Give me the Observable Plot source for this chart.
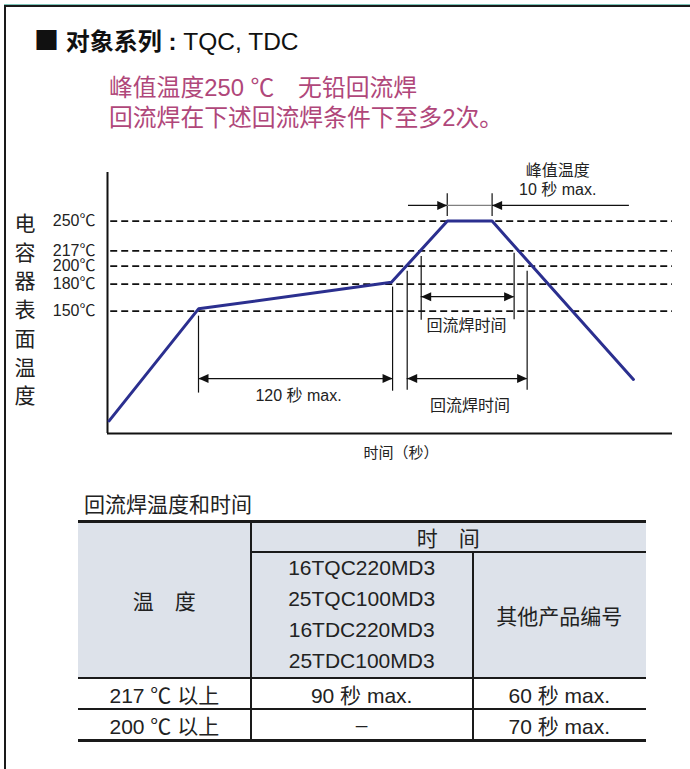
<!DOCTYPE html>
<html>
<head>
<meta charset="utf-8">
<script src="https://cdn.jsdelivr.net/npm/d3@7"></script>
<script src="https://cdn.jsdelivr.net/npm/@observablehq/plot@0.6"></script>
<style>
  html, body { margin: 0; padding: 0; background: #fff; }
  #page { position: relative; width: 690px; height: 769px; overflow: hidden;
          font-family: "Liberation Sans", Arial, "Noto Sans CJK SC", sans-serif; color: #1a1a1a; }
  .abs { position: absolute; white-space: nowrap; }
  #frameTop1 { left: 4px; top: 4px; width: 686px; height: 1px; background: #7cc4b8; }
  #frameTop2 { left: 4px; top: 5px; width: 686px; height: 2px; background: #1a1a1a; }
  #frameLeft { left: 4px; top: 5px; width: 2px; height: 764px; background: #1a1a1a; }
  #title { left: 34px; top: 24px; font-size: 24.5px; line-height: 30px; color: #111; }
  #title .sq { font-family: "Noto Sans CJK SC", sans-serif; font-size: 25px; }
  #title .cjk { font-weight: bold; font-size: 24px; }
  #subtitle { left: 109px; top: 73px; font-size: 23.8px; line-height: 30px; color: #b0477a; }
  #ytitle { left: 14px; top: 210px; width: 22px; font-size: 21px; line-height: 28.7px; text-align: center; color: #222; }
  #xtitle { left: 351px; top: 443px; width: 100px; text-align: center; font-size: 15px; line-height: 20px; color: #222; }
  #chart { left: 0; top: 150px; }
  #caption { left: 84px; top: 492px; font-size: 21px; line-height: 26px; color: #222; }
  .cell { position: absolute; transform: translate(-50%, -50%); white-space: nowrap; font-size: 21px; color: #222; }
  .line { position: absolute; background: #1a1a1a; }
</style>
</head>
<body>
<div id="page">
  <div class="abs" id="frameTop1"></div>
  <div class="abs" id="frameTop2"></div>
  <div class="abs" id="frameLeft"></div>
  <div class="abs" id="title"><span class="sq">■</span> <span class="cjk">对象系列 :</span> TQC, TDC</div>
  <div class="abs" id="subtitle"></div>
  <div class="abs" id="ytitle"></div>
  <div class="abs" id="xtitle"></div>
  <div class="abs" id="chart"></div>
  <div class="abs" id="caption"></div>
  <div id="table"></div>
</div>
<script>
// ---------- text ----------
const subtitleLines = ["峰值温度250 ℃　无铅回流焊", "回流焊在下述回流焊条件下至多2次。"];
const yTitleChars = ["电", "容", "器", "表", "面", "温", "度"];
const xTitle = "时间（秒）";

// ---------- chart data ----------
const refTemps = [250, 217, 200, 180, 150];           // dashed reference levels (℃)
const profileTime = [1, 56.6, 176.6, 211.4, 239.2, 327.1];   // seconds (schematic)
const profileTemp = [28, 152.5, 182, 250, 250, 74];          // ℃

const markerTime = [56.6, 177.3, 186.4, 195.1, 252.9, 261, 211.3, 239.2];
const markerLow  = [58.9, 61, 62, 139.7, 140.4, 62, 255.2, 255.2];
const markerHigh = [144.4, 176.7, 194.4, 210.8, 214.4, 194.4, 280.4, 280.4];

// dimension spans with outward arrowheads
const spanTemp  = [75, 75, 166];
const spanStart = [56.6, 186.4, 195.1];
const spanEnd   = [177.3, 261, 252.9];

// peak span (arrows pointing inward)
const peakTemp = [267.4];
const peakStart = [211.3];
const peakEnd = [239.2];
const peakOuterLeft = [187.2];
const peakOuterRight = [324.6];

const labelText = ["120 秒 max.", "回流焊时间", "回流焊时间", "峰值温度", "10 秒 max."];
const labelTime = [118.8, 223.3, 225.4, 280, 280];
const labelTemp = [56.2, 133.2, 45.1, 305.4, 285.1];

const timeDomain = [0, 351.4];
const tempDomain = [14, 304];

// ---------- table data ----------
const tableCaption = "回流焊温度和时间";
const headTemp = "温　度";
const headTime = "时　间";
const groupA = ["16TQC220MD3", "25TQC100MD3", "16TDC220MD3", "25TDC100MD3"];
const groupB = "其他产品编号";
const rowTemps = ["217 ℃ 以上", "200 ℃ 以上"];
const rowTimesA = ["90 秒 max.", "–"];
const rowTimesB = ["60 秒 max.", "70 秒 max."];

// ---------- header texts ----------
document.getElementById("subtitle").innerHTML = subtitleLines.join("<br>");
document.getElementById("ytitle").innerHTML = yTitleChars.join("<br>");
document.getElementById("xtitle").textContent = xTitle;
document.getElementById("caption").textContent = tableCaption;

// ---------- chart ----------
const profile = profileTime.map((t, i) => ({t, T: profileTemp[i]}));
const markers = markerTime.map((t, i) => ({t, lo: markerLow[i], hi: markerHigh[i]}));
const spans = spanTemp.map((T, i) => ({T, a: spanStart[i], b: spanEnd[i]}));
const peakShafts = [
  {T: peakTemp[0], a: peakOuterLeft[0], b: peakStart[0]},
  {T: peakTemp[0], a: peakEnd[0], b: peakOuterRight[0]}
];
const peakGap = [{T: peakTemp[0], a: peakStart[0], b: peakEnd[0]}];
const rightHeads = spans.map(s => ({t: s.b, T: s.T})).concat([{t: peakStart[0], T: peakTemp[0]}]);
const leftHeads = spans.map(s => ({t: s.a, T: s.T})).concat([{t: peakEnd[0], T: peakTemp[0]}]);
const labels = labelText.map((text, i) => ({text, t: labelTime[i], T: labelTemp[i]}));

const headRight = {draw(ctx) { ctx.moveTo(0, 0); ctx.lineTo(-10, -4.5); ctx.lineTo(-10, 4.5); ctx.closePath(); }};
const headLeft  = {draw(ctx) { ctx.moveTo(0, 0); ctx.lineTo(10, -4.5); ctx.lineTo(10, 4.5); ctx.closePath(); }};

const ink = "#111";
const chart = Plot.plot({
  width: 690,
  height: 320,
  marginLeft: 107,
  marginRight: 18,
  marginTop: 22,
  marginBottom: 37,
  x: {domain: timeDomain, axis: null},
  y: {domain: tempDomain, axis: null},
  style: {fontFamily: '"Liberation Sans", Arial, "Noto Sans CJK SC", sans-serif', fontSize: "16px", background: "transparent", overflow: "visible"},
  marks: [
    Plot.ruleY(refTemps, {y: d => d, x1: 2, x2: timeDomain[1], stroke: ink, strokeWidth: 1.8, strokeDasharray: "7,4"}),
    Plot.ruleX([timeDomain[0]], {y1: tempDomain[0], y2: tempDomain[1], stroke: ink, strokeWidth: 2}),
    Plot.ruleY([tempDomain[0]], {x1: timeDomain[0], x2: timeDomain[1], stroke: ink, strokeWidth: 2}),
    Plot.ruleX(markers, {x: "t", y1: "lo", y2: "hi", stroke: ink, strokeWidth: 1.2}),
    Plot.ruleY(spans, {y: "T", x1: "a", x2: "b", stroke: ink, strokeWidth: 1.2}),
    Plot.ruleY(peakShafts, {y: "T", x1: "a", x2: "b", stroke: ink, strokeWidth: 1.2}),
    Plot.ruleY(peakGap, {y: "T", x1: "a", x2: "b", stroke: "#808080", strokeWidth: 1.2}),
    Plot.dot(rightHeads, {x: "t", y: "T", symbol: headRight, fill: ink, stroke: "none", r: 5}),
    Plot.dot(leftHeads, {x: "t", y: "T", symbol: headLeft, fill: ink, stroke: "none", r: 5}),
    Plot.line(profile, {x: "t", y: "T", stroke: "#2b2f8f", strokeWidth: 3, strokeLinejoin: "miter"}),
    Plot.text(refTemps, {x: timeDomain[0], y: d => d, text: d => d + "℃", textAnchor: "end", dx: -12, fontSize: 16, fill: "#222"}),
    Plot.text(labels, {x: "t", y: "T", text: "text", fontSize: 16, fill: "#222"})
  ]
});
document.getElementById("chart").appendChild(chart);

// ---------- table ----------
const colEdges = [78, 250.7, 472.7, 646];
const rowEdges = [521, 552, 678, 709, 740];
const tbl = document.getElementById("table");
function rect(x, y, w, h, cls, color) {
  const d = document.createElement("div");
  d.className = cls;
  d.style.left = x + "px"; d.style.top = y + "px"; d.style.width = w + "px"; d.style.height = h + "px";
  if (color) d.style.background = color;
  tbl.appendChild(d);
}
function cell(text, cx, cy, extra) {
  const d = document.createElement("div");
  d.className = "cell";
  d.style.left = cx + "px"; d.style.top = cy + "px";
  if (extra) Object.assign(d.style, extra);
  d.innerHTML = text;
  tbl.appendChild(d);
}
const W = colEdges[3] - colEdges[0];
rect(colEdges[0], rowEdges[0], W, rowEdges[2] - rowEdges[0], "line", "#dde2ea");
rect(colEdges[0], rowEdges[0] - 1.5, W, 3.2, "line");
rect(colEdges[1], rowEdges[1] - 0.8, colEdges[3] - colEdges[1], 1.7, "line");
rect(colEdges[0], rowEdges[2] - 0.8, W, 1.8, "line");
rect(colEdges[0], rowEdges[3] - 0.8, W, 1.6, "line");
rect(colEdges[0], rowEdges[4] - 1.5, W, 3.2, "line");
rect(colEdges[1] - 0.8, rowEdges[0], 1.8, rowEdges[4] - rowEdges[0], "line");
rect(colEdges[2] - 0.8, rowEdges[1], 1.8, rowEdges[4] - rowEdges[1], "line");

const mid = (a, b) => (a + b) / 2;
cell(headTemp, mid(colEdges[0], colEdges[1]), mid(rowEdges[0], rowEdges[2]));
cell(headTime, mid(colEdges[1], colEdges[3]), mid(rowEdges[0], rowEdges[1]));
cell(groupA.join("<br>"), mid(colEdges[1], colEdges[2]), mid(rowEdges[1], rowEdges[2]) - 1.5, {lineHeight: "31px", textAlign: "center"});
cell(groupB, mid(colEdges[2], colEdges[3]), mid(rowEdges[1], rowEdges[2]));
rowTemps.forEach((r, i) => {
  const cy = mid(rowEdges[2 + i], rowEdges[3 + i]);
  cell(r, mid(colEdges[0], colEdges[1]), cy);
  cell(rowTimesA[i], mid(colEdges[1], colEdges[2]), cy);
  cell(rowTimesB[i], mid(colEdges[2], colEdges[3]), cy);
});
</script>
</body>
</html>
